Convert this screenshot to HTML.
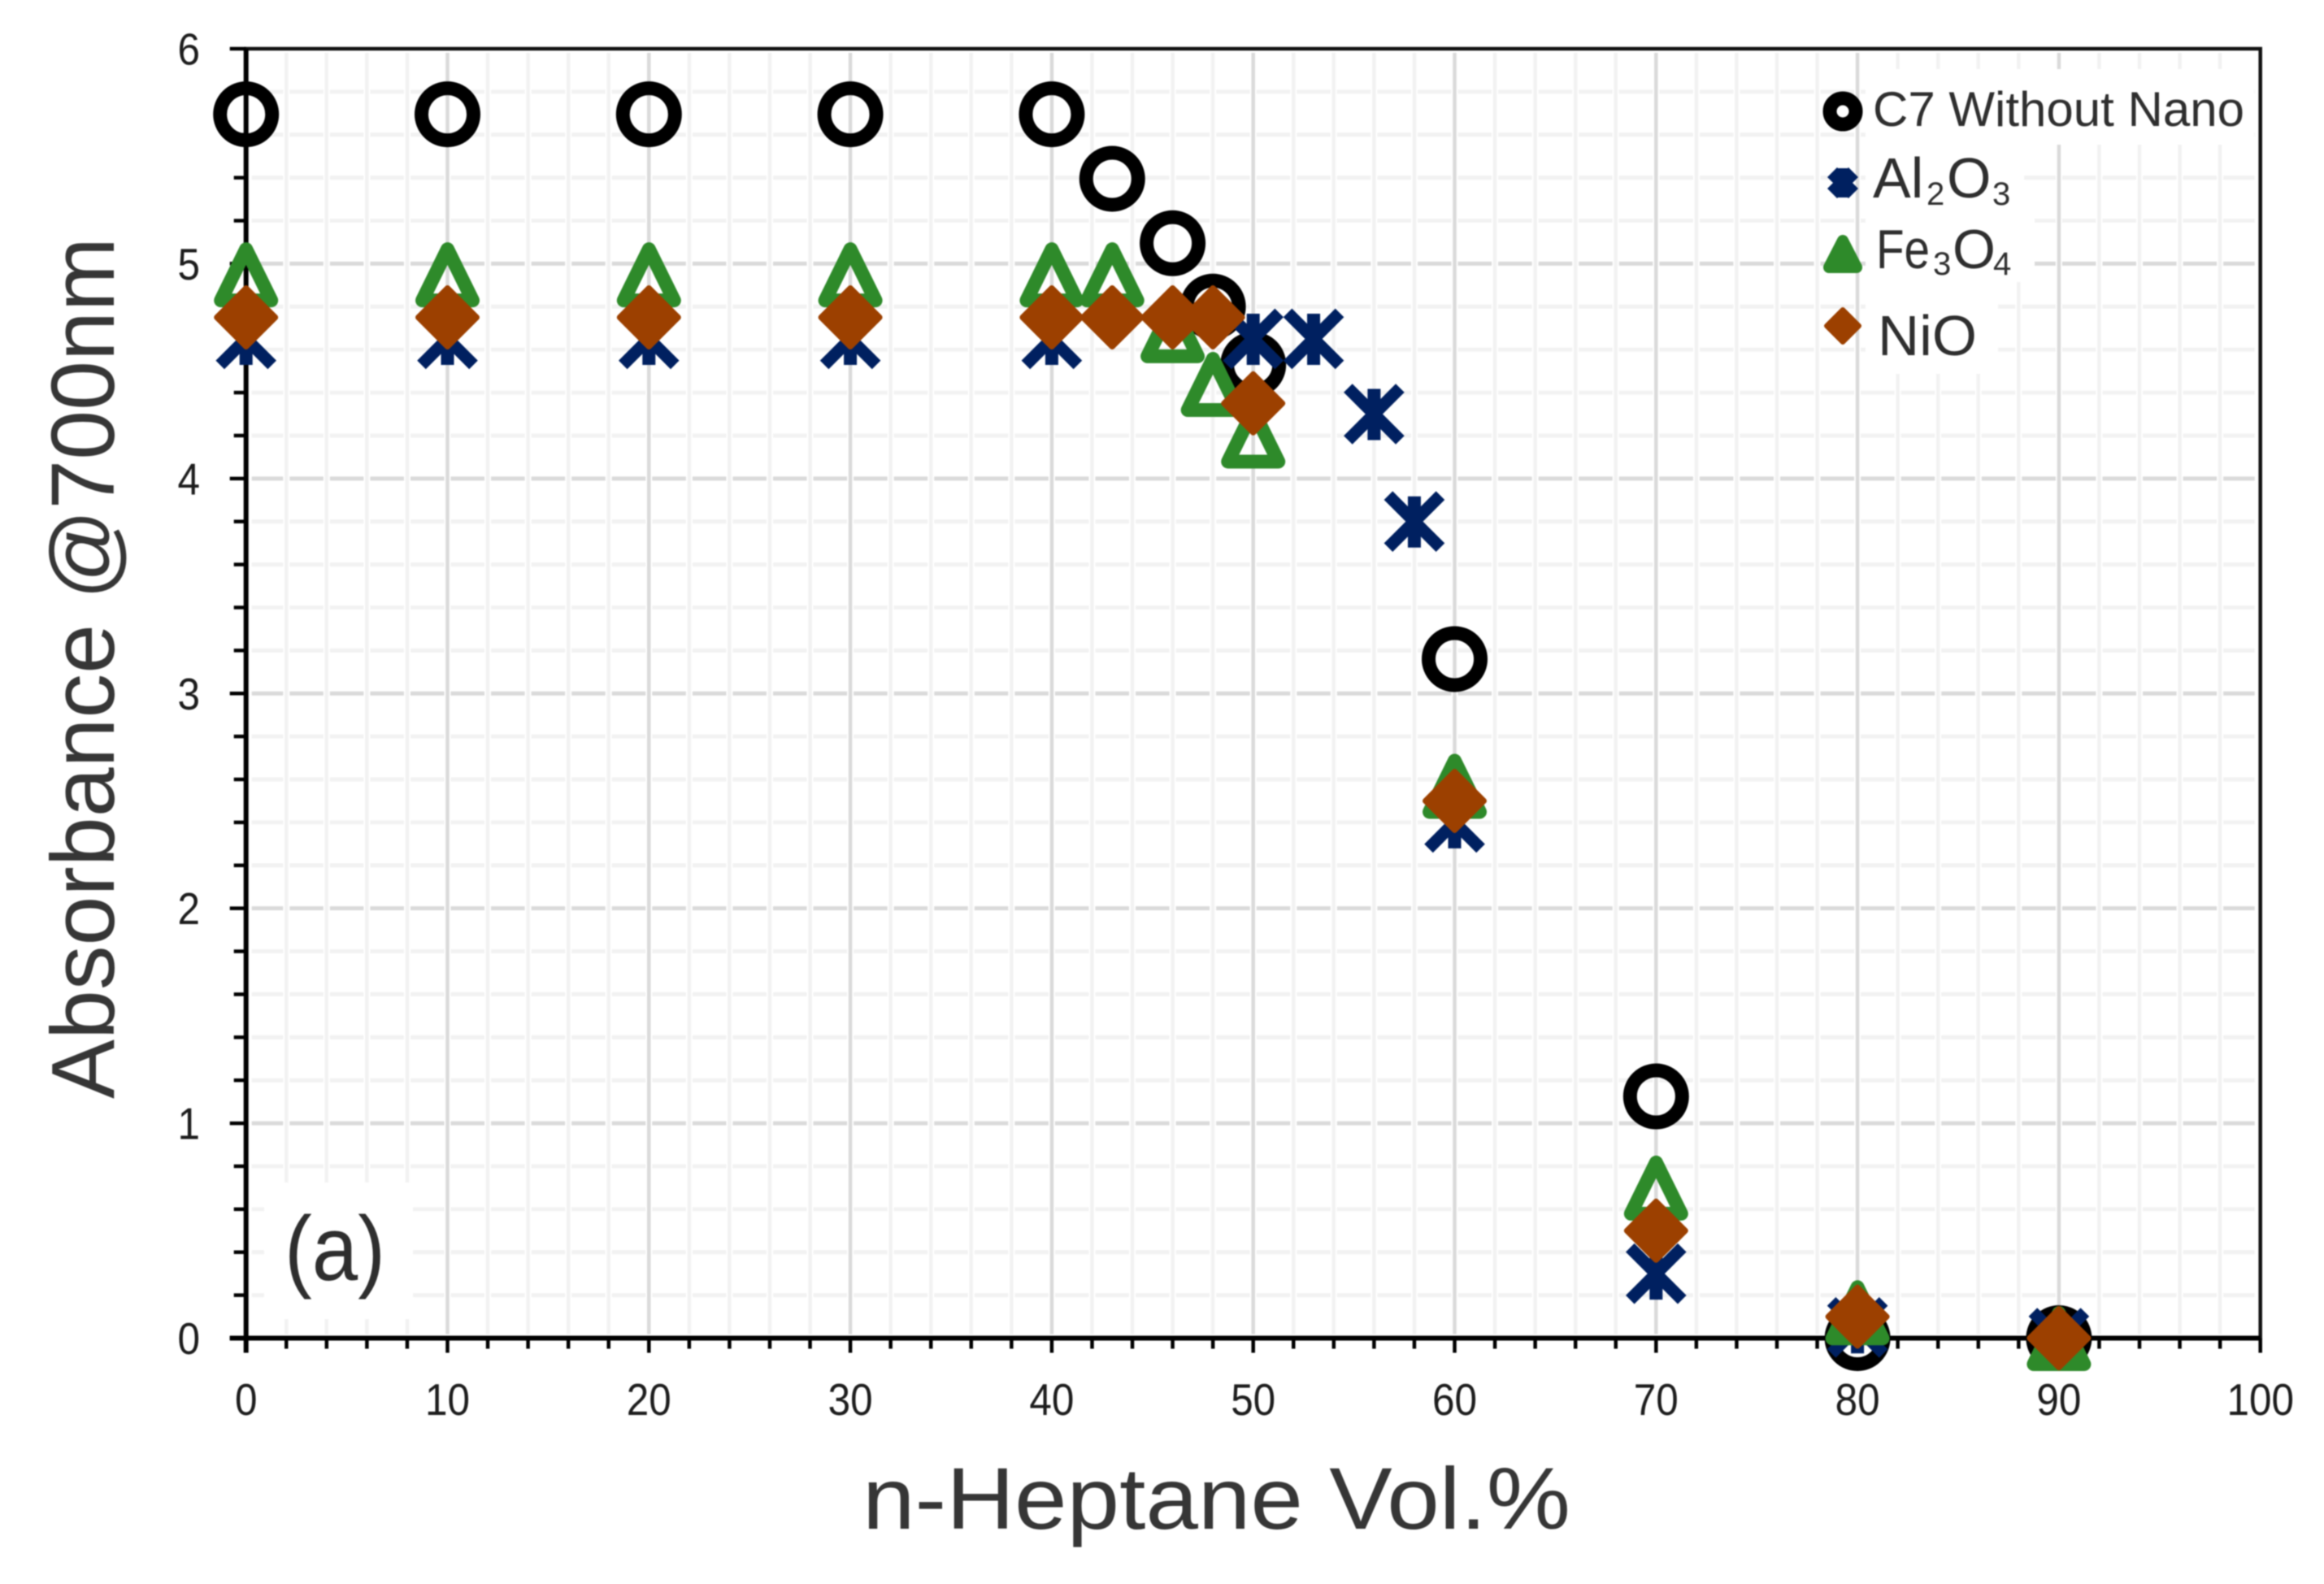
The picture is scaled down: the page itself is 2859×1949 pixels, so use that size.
<!DOCTYPE html>
<html lang="en">
<head>
<meta charset="utf-8">
<title>Absorbance vs n-Heptane</title>
<style>
html,body{margin:0;padding:0;background:#fff;}
body{width:2859px;height:1949px;overflow:hidden;}
svg{display:block;filter:blur(0.7px);}
text{font-family:"Liberation Sans",sans-serif;}
</style>
</head>
<body>
<svg id="chart" xmlns="http://www.w3.org/2000/svg" width="2859" height="1949" viewBox="0 0 2859 1949">
  <rect x="0" y="0" width="2859" height="1949" fill="#ffffff"/>
  <g id="grid"></g>
  <g id="masks">
    <rect x="2295" y="85" width="478" height="93" fill="#fff"/>
    <rect x="2295" y="178" width="195" height="85" fill="#fff"/>
    <rect x="2295" y="263" width="208" height="84" fill="#fff"/>
    <rect x="2295" y="347" width="163" height="113" fill="#fff"/>
    <rect x="325" y="1455" width="183" height="168" fill="#fff"/>
  </g>
  <g id="axes"></g>
  <g id="series"></g>

  <text transform="translate(140,1352) rotate(-90)" font-size="110" fill="#363636" textLength="1060" lengthAdjust="spacingAndGlyphs">Absorbance @700nm</text>
  <text x="1061" y="1881" font-size="108" fill="#363636" textLength="871" lengthAdjust="spacingAndGlyphs">n-Heptane Vol.%</text>
  <text x="350" y="1575" font-size="112" fill="#2e2e2e" textLength="124" lengthAdjust="spacingAndGlyphs">(a)</text>

  <g id="legend">
    <g>
      <circle cx="2267" cy="137" r="16" fill="none" stroke="#000" stroke-width="17"/>
      <text x="2304" y="155" font-size="60" fill="#2e2e2e" textLength="457" lengthAdjust="spacingAndGlyphs">C7 Without Nano</text>
    </g>
    <g>
      <g stroke="#002060" fill="none">
        <line x1="2254" y1="212" x2="2280" y2="238" stroke-width="17"/><line x1="2280" y1="212" x2="2254" y2="238" stroke-width="17"/><line x1="2267" y1="207" x2="2267" y2="243" stroke-width="15"/>
      </g>
      <text font-size="70" fill="#2e2e2e"><tspan x="2304" y="243">Al</tspan><tspan x="2370" y="252" font-size="40">2</tspan><tspan x="2395" y="243">O</tspan><tspan x="2451" y="252" font-size="40">3</tspan></text>
    </g>
    <g>
      <path d="M2267 296 L2250 329 L2284 329 Z" fill="#2e8a2a" stroke="#2e8a2a" stroke-width="14" stroke-linejoin="round"/>
      <text font-size="68" fill="#2e2e2e"><tspan x="2308" y="330" textLength="66" lengthAdjust="spacingAndGlyphs">Fe</tspan><tspan x="2378" y="338" font-size="40">3</tspan><tspan x="2402" y="330">O</tspan><tspan x="2452" y="338" font-size="40">4</tspan></text>
    </g>
    <g>
      <path d="M2267 381 L2287 401 L2267 421 L2247 401 Z" fill="#9c4000" stroke="#9c4000" stroke-width="6" stroke-linejoin="round"/>
      <text x="2310" y="437" font-size="70" fill="#2e2e2e" textLength="122" lengthAdjust="spacingAndGlyphs">NiO</text>
    </g>
  </g>
</svg>
<script>
// ---- chart data ----
const xTickLabels = ["0","10","20","30","40","50","60","70","80","90","100"];
const yTickLabels = ["0","1","2","3","4","5","6"];
const c7X    = [0,10,20,30,40,43,46,48,50,60,70,80,90];
const c7Y    = [5.695,5.695,5.695,5.695,5.695,5.395,5.095,4.8,4.53,3.16,1.125,0,0];
const al2o3X = [0,10,20,30,40,50,53,56,58,60,70,80,90];
const al2o3Y = [4.65,4.65,4.65,4.65,4.65,4.65,4.65,4.3,3.8,2.4,0.3,0.05,0];
const fe3o4X = [0,10,20,30,40,43,46,48,50,60,70,80,90];
const fe3o4Y = [4.95,4.95,4.95,4.95,4.95,4.95,4.69,4.44,4.2,2.57,0.7,0.12,0];
const nioX   = [0,10,20,30,40,43,46,48,50,60,70,80,90];
const nioY   = [4.75,4.75,4.75,4.75,4.75,4.75,4.75,4.75,4.35,2.5,0.5,0.1,0];

const xMax = 100, yMax = 6, xMinorStep = 2, yMinorStep = 0.2;
const plotLeft = 302.7, plotRight = 2780.7, plotTop = 60, plotBottom = 1646.5;
const xScale = v => plotLeft + (v / xMax) * (plotRight - plotLeft);
const yScale = v => plotBottom - (v / yMax) * (plotBottom - plotTop);

const NS = "http://www.w3.org/2000/svg";
function make(tag, attrs, parent) {
  const node = document.createElementNS(NS, tag);
  for (const k in attrs) node.setAttribute(k, attrs[k]);
  parent.appendChild(node);
  return node;
}
const grid = document.getElementById("grid");
const axes = document.getElementById("axes");
const series = document.getElementById("series");

const xCount = Math.round(xMax / xMinorStep);
const yCount = Math.round(yMax / yMinorStep);

// horizontal gridlines first, so vertical ones break them as in the reference
for (let i = 1; i < yCount; i++) {
  const v = i * yMinorStep, major = i % 5 === 0;
  const line = make("line", {x1: plotLeft + 7, x2: plotRight - 7, y1: yScale(v), y2: yScale(v),
    stroke: major ? "#dadada" : "#f2f2f2", "stroke-width": 5}, grid);
  
  
}
for (let i = 1; i < xCount; i++) {
  const v = i * xMinorStep, major = i % 5 === 0;
  const halo = make("line", {x1: xScale(v), x2: xScale(v), y1: plotTop + 5, y2: plotBottom - 5,
    stroke: "#ffffff", "stroke-width": 8}, grid);
  
  
  const line = make("line", {x1: xScale(v), x2: xScale(v), y1: plotTop + 5, y2: plotBottom - 5,
    stroke: major ? "#dadada" : "#f2f2f2", "stroke-width": 4.5}, grid);
  
  
}

// plot frame
const frame = make("rect", {x: plotLeft, y: plotTop, width: plotRight - plotLeft, height: plotBottom - plotTop,
  fill: "none", stroke: "#111", "stroke-width": 4.5}, axes);


const bottomAxis = make("line", {x1: plotLeft - 20, x2: plotRight, y1: plotBottom, y2: plotBottom, stroke: "#000", "stroke-width": 6}, axes);


const leftAxis = make("line", {x1: plotLeft, x2: plotLeft, y1: plotTop, y2: plotBottom + 18, stroke: "#000", "stroke-width": 6}, axes);



// x ticks
for (let i = 0; i <= xCount; i++) {
  const v = i * xMinorStep, major = i % 5 === 0;
  const tick = make("line", {x1: xScale(v), x2: xScale(v), y1: plotBottom, y2: plotBottom + (major ? 18 : 13),
    stroke: "#000", "stroke-width": 4.5}, axes);
  
  
}
// y ticks
for (let i = 0; i <= yCount; i++) {
  const v = i * yMinorStep, major = i % 5 === 0;
  const tick = make("line", {x1: plotLeft, x2: plotLeft - (major ? 20 : 15), y1: yScale(v), y2: yScale(v),
    stroke: "#000", "stroke-width": 4.5}, axes);
  
  
}
// tick labels
xTickLabels.forEach((lab, i) => {
  const t = make("text", {x: xScale(i * 10), y: 1741, "font-size": 55, fill: "#1c1c1c", "text-anchor": "middle",
    textLength: lab.length * 27.5, lengthAdjust: "spacingAndGlyphs"}, axes);
  t.textContent = lab;
  
  
});
yTickLabels.forEach((lab, i) => {
  const t = make("text", {x: 246, y: yScale(i) + 19.5, "font-size": 55, fill: "#1c1c1c", "text-anchor": "end",
    textLength: lab.length * 27.5, lengthAdjust: "spacingAndGlyphs"}, axes);
  t.textContent = lab;
  
  
});

// markers
function drawCircle(g, cx, cy) {
  return make("circle", {cx: cx, cy: cy, r: 32, fill: "none", stroke: "#000", "stroke-width": 17}, g);
}
function drawStar(g, cx, cy) {
  const m = make("g", {stroke: "#002060", fill: "none"}, g);
  make("line", {x1: cx - 32, y1: cy - 32, x2: cx + 32, y2: cy + 32, "stroke-width": 15}, m);
  make("line", {x1: cx + 32, y1: cy - 32, x2: cx - 32, y2: cy + 32, "stroke-width": 15}, m);
  make("line", {x1: cx, y1: cy - 31, x2: cx, y2: cy + 32, "stroke-width": 16}, m);
  return m;
}
function drawTriangle(g, cx, cy) {
  const d = `M${cx} ${cy - 31} L${cx + 31} ${cy + 32} L${cx - 31} ${cy + 32} Z`;
  return make("path", {d: d, fill: "none", stroke: "#2e8a2a", "stroke-width": 17, "stroke-linejoin": "round"}, g);
}
function drawDiamond(g, cx, cy) {
  const d = `M${cx} ${cy - 36} L${cx + 36} ${cy} L${cx} ${cy + 36} L${cx - 36} ${cy} Z`;
  return make("path", {d: d, fill: "#9c4000", stroke: "#9c4000", "stroke-width": 7, "stroke-linejoin": "round"}, g);
}

const c7Group = make("g", {}, series);


c7X.forEach((x, i) => {
  const m = drawCircle(c7Group, xScale(x), yScale(c7Y[i]));
  
  
});
const alGroup = make("g", {}, series);


al2o3X.forEach((x, i) => {
  const m = drawStar(alGroup, xScale(x), yScale(al2o3Y[i]));
  
  
});
const feGroup = make("g", {}, series);


fe3o4X.forEach((x, i) => {
  const m = drawTriangle(feGroup, xScale(x), yScale(fe3o4Y[i]));
  
  
});
const niGroup = make("g", {}, series);


nioX.forEach((x, i) => {
  const m = drawDiamond(niGroup, xScale(x), yScale(nioY[i]));
  
  
});
</script>
</body>
</html>
